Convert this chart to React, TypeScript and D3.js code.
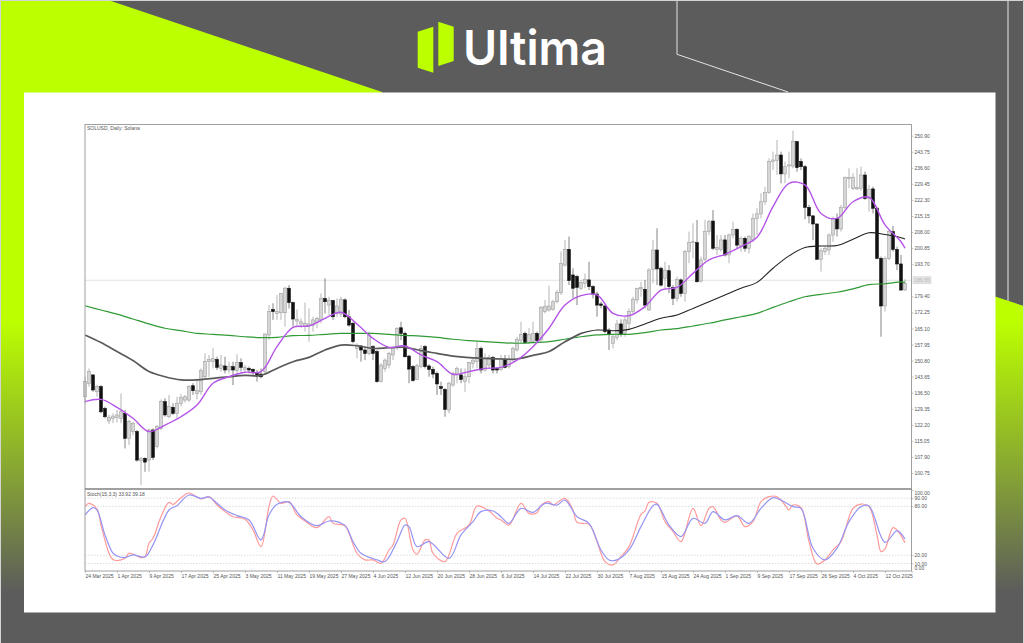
import { useEffect, useRef } from 'react';
import * as d3 from 'd3';

const width = 1024;
const height = 643;

// daily SOLUSD candles, one entry per bar
const opens = [134.7,140.7,144.4,136.9,139.2,129.5,123.9,125.1,125.5,125.1,127.3,116.2,119.2,119.2,106.2,107.3,106.5,119.9,112.5,120.6,132.5,125.8,130.0,127.3,131.8,133.2,133.2,139.6,136.2,136.9,143.6,150.3,150.3,151.3,147.3,148.4,146.6,148.1,146.3,149.9,146.9,147.3,146.9,145.1,144.8,145.9,162.2,173.6,171.8,172.1,172.1,183.0,176.6,168.4,167.1,166.2,166.3,166.6,167.7,168.9,178.4,175.5,177.5,171.8,171.5,177.8,170.3,167.4,156.2,157.3,155.5,154.0,157.0,154.8,141.4,147.3,148.8,153.3,157.0,165.4,162.9,152.8,148.1,142.4,148.1,157.0,148.4,146.9,145.1,139.2,138.0,128.8,139.9,144.4,144.4,141.4,143.6,149.6,150.3,156.2,146.6,148.8,152.2,147.2,146.9,151.3,148.1,151.0,155.5,159.7,162.9,158.8,159.2,162.9,160.0,172.6,173.3,173.6,177.0,181.0,193.3,200.3,188.9,188.2,183.0,185.2,186.7,183.7,180.4,176.0,175.1,164.4,158.5,161.1,167.1,162.9,167.4,172.6,177.8,182.7,182.5,173.3,191.4,200.0,191.9,187.4,190.8,183.3,178.5,186.7,180.7,199.3,203.3,203.3,186.2,195.9,208.2,212.9,200.3,200.3,204.5,197.8,206.7,209.2,201.8,205.2,200.8,204.5,214.1,216.1,221.5,225.6,239.4,239.8,242.3,233.9,237.4,237.4,248.3,239.4,237.1,219.0,215.2,211.6,195.9,199.3,200.0,206.7,214.1,209.4,219.0,231.9,227.5,227.2,227.5,233.4,223.0,227.2,218.6,196.3,175.1,196.3,208.2,200.3,193.8,182.2];
const highs = [143.6,147.3,144.8,139.9,139.9,130.3,126.6,127.3,128.8,136.2,128.8,124.3,123.6,119.9,108.0,107.7,120.6,120.6,122.1,133.5,134.0,135.5,131.8,134.7,135.9,135.5,139.9,140.7,142.2,147.3,154.0,153.3,156.5,152.5,153.3,152.5,150.3,150.3,153.6,151.8,148.8,148.1,147.3,146.6,147.3,162.9,175.5,176.3,180.0,180.7,183.7,184.4,177.0,173.6,169.6,176.6,174.0,170.3,170.3,180.7,187.4,179.2,177.8,178.5,179.2,178.5,173.3,168.1,158.5,157.7,157.0,163.7,157.7,155.5,149.6,151.8,154.7,157.0,165.6,168.1,163.7,153.3,148.8,149.3,157.7,157.7,149.1,148.1,145.9,141.4,138.4,141.4,145.9,148.1,147.3,147.3,150.3,152.2,159.2,157.0,154.0,153.3,152.8,147.8,153.3,153.3,153.3,157.0,161.4,168.1,163.7,165.2,168.1,163.7,175.1,177.8,184.1,177.8,182.2,199.3,204.5,206.0,191.9,188.9,186.7,189.6,194.8,184.4,181.5,177.0,175.5,165.2,162.9,168.9,169.2,170.3,174.0,179.2,183.0,185.9,186.7,191.9,204.5,209.7,192.6,194.8,193.3,184.4,188.2,187.4,200.0,208.2,211.9,213.4,197.1,213.4,213.4,217.8,206.7,206.7,206.7,207.4,212.6,209.7,206.0,206.0,206.7,216.3,218.6,225.3,228.2,240.8,243.8,249.0,243.8,239.4,243.8,253.2,248.3,240.8,237.9,220.1,215.6,211.9,200.8,201.5,207.4,214.9,216.3,220.1,232.7,236.4,234.2,236.4,237.1,234.9,229.0,228.2,219.3,197.1,197.1,208.9,210.7,201.5,197.8,187.0];
const lows = [131.8,139.2,136.9,134.7,127.3,125.1,122.6,122.9,123.2,122.9,111.7,113.2,117.7,105.8,95.4,101.3,101.3,106.5,111.7,119.9,125.8,125.1,126.6,125.1,130.3,132.1,132.5,135.5,133.5,135.5,142.9,143.6,147.3,146.6,145.9,145.1,145.1,139.9,143.6,145.9,145.9,145.1,144.4,141.4,142.9,145.1,159.9,168.9,168.9,168.9,165.9,174.0,165.9,165.9,165.2,163.7,159.2,163.7,165.2,167.4,171.8,171.1,168.9,170.3,170.3,169.6,165.9,158.5,151.8,150.3,151.0,153.3,151.0,141.0,141.0,145.9,147.3,151.0,155.5,159.9,152.2,140.7,141.4,142.2,147.3,147.3,143.6,142.9,135.5,135.5,125.8,127.3,139.2,140.7,140.7,136.9,140.7,147.3,147.3,145.1,145.9,147.3,145.1,145.1,146.3,147.3,147.3,150.3,154.8,158.5,158.2,158.2,158.5,158.5,159.2,171.8,172.6,173.0,176.3,180.0,192.6,184.4,178.5,175.5,182.2,183.0,182.2,178.5,170.3,174.0,162.9,155.5,156.2,159.9,161.4,161.4,164.4,171.8,176.3,179.2,174.0,173.0,185.2,184.4,183.7,182.2,180.7,175.5,177.0,179.2,177.0,194.1,196.3,185.5,185.5,194.8,206.7,200.0,197.8,199.3,197.1,194.1,205.2,200.8,199.3,199.3,198.5,203.7,206.7,214.1,220.1,225.0,235.6,233.4,229.7,229.7,231.9,236.4,234.9,235.6,213.7,211.9,204.5,195.6,190.4,197.8,197.8,203.7,206.0,208.2,217.8,227.5,226.7,226.7,226.4,222.3,217.1,216.3,195.9,161.4,172.6,195.6,199.3,191.1,181.9,181.9];
const closes = [141.4,145.9,137.7,139.2,128.0,125.8,125.4,126.1,126.6,128.0,116.2,123.6,122.9,106.5,107.1,105.6,119.9,107.7,121.4,132.5,126.6,130.3,127.3,131.8,134.4,134.7,139.2,137.4,137.4,146.3,150.3,151.3,151.8,147.8,148.8,146.6,148.1,146.6,149.9,147.8,147.8,146.6,145.9,143.9,143.6,162.6,172.6,172.6,172.7,180.7,183.0,176.6,169.3,169.2,168.1,167.4,167.1,168.9,169.6,178.5,177.0,177.5,170.3,175.1,178.1,170.3,166.6,159.2,157.7,155.5,154.0,162.2,154.0,141.4,148.8,151.0,154.0,156.2,165.2,162.9,152.5,147.0,141.9,148.5,156.2,148.1,146.9,144.8,140.4,138.4,129.1,140.7,145.1,147.3,142.4,143.6,149.9,151.0,156.2,146.6,151.8,152.2,146.6,146.6,151.8,147.8,151.3,156.2,160.2,162.5,158.8,162.5,162.9,159.7,174.5,174.8,175.1,177.0,181.2,194.1,200.3,186.4,183.0,183.4,185.5,187.0,183.7,180.4,175.5,175.4,163.7,162.6,161.4,167.1,162.6,168.9,172.6,178.1,183.0,183.3,175.5,191.1,200.0,191.6,184.4,191.1,183.7,178.5,187.0,180.7,199.3,203.4,203.7,185.9,195.6,208.2,212.6,200.8,201.1,204.5,197.8,206.7,209.2,202.2,205.2,200.8,206.0,214.1,216.1,221.5,225.6,239.4,240.1,242.3,233.9,237.1,237.9,248.3,236.7,237.1,219.0,215.2,211.6,195.9,199.7,200.8,206.7,214.1,209.4,219.0,232.4,232.4,232.4,227.8,233.4,223.0,227.0,218.6,196.3,175.1,196.3,208.2,200.3,193.8,182.2,185.2];

// moving averages, read every 4th bar
const maBars = [...d3.range(0, 205, 4), 205];
const maFast = [132.5,133.5,130.0,125.1,119.2,122.1,125.8,131.0,140.7,143.6,145.6,145.9,157.0,165.6,166.2,169.6,172.3,167.1,160.7,156.7,157.3,153.3,150.3,144.7,145.9,147.3,147.8,151.0,157.0,165.2,175.5,179.7,180.0,171.8,170.8,174.8,182.2,183.4,189.6,195.6,198.1,201.5,205.7,219.3,229.7,229.0,216.3,214.1,221.5,223.5,211.2,203.7,200.8];
const maMid = [162.2,158.8,154.8,150.8,145.9,143.6,142.2,142.2,142.9,143.6,144.2,144.2,147.3,150.3,152.2,155.5,157.7,157.4,156.2,156.5,156.7,155.2,154.0,152.8,152.1,151.8,151.5,151.5,153.1,154.8,159.2,162.9,164.4,164.1,164.7,167.1,169.6,171.1,174.0,177.0,180.0,183.0,185.6,191.9,197.4,201.1,201.8,202.0,204.8,207.7,206.9,205.5,204.9];
const maSlow = [175.2,173.3,171.5,169.3,167.1,165.2,164.1,162.9,162.5,162.0,161.4,161.0,161.1,161.9,162.0,162.5,162.9,162.9,162.9,162.5,162.0,161.7,161.1,160.3,159.7,159.2,158.8,158.5,158.8,159.2,160.3,161.4,162.2,162.5,162.5,163.2,164.4,165.0,166.2,167.4,168.9,170.3,171.8,174.5,177.0,179.2,180.3,181.2,182.7,184.6,185.0,185.8,185.6];

// stochastic turning points
const stochSignalBars = [0,1,3,4,6,7,8,10,11,13,14,15,16,17,19,21,22,24,26,29,31,33,35,37,40,42,44,46,47,49,51,53,55,58,61,62,65,66,68,70,72,74,76,77,79,80,82,83,85,86,87,90,93,96,98,101,103,104,106,109,111,113,114,116,117,120,122,123,126,128,130,132,134,136,139,140,141,143,145,147,149,152,154,156,157,159,160,163,165,167,169,171,173,175,176,177,179,181,183,185,187,189,192,194,196,198,199,200,202,203,205];
const stochSignal = [79.6,83.7,76.7,57.1,22.5,14.7,13.5,16.3,22.5,19.2,17.2,18.4,34.7,40.8,67.3,84.9,82.4,90.6,96.3,89.0,91.8,81.6,73.5,67.3,64.1,51.0,30.6,79.6,92.6,83.7,85.7,69.4,62.0,53.9,67.3,59.2,56.3,46.9,22.5,14.3,14.3,10.2,26.5,32.7,63.3,65.3,26.5,21.2,38.8,38.8,22.5,12.3,46.9,57.1,80.4,74.3,65.3,63.3,57.1,83.7,71.4,72.2,80.8,85.7,81.6,89.8,75.5,60.4,57.9,36.7,12.3,8.2,18.4,30.6,70.2,74.3,84.9,83.7,61.2,49.0,36.7,77.5,56.3,77.5,79.6,63.3,60.4,68.2,55.1,61.2,85.7,91.8,91.8,81.6,75.5,81.6,78.4,36.7,9.4,14.3,26.5,36.7,77.5,82.8,79.6,44.9,24.5,27.8,53.9,51.0,35.5];
const stochMainBars = [0,2,3,5,7,8,10,12,15,17,21,23,26,29,31,33,35,38,41,44,46,48,51,54,58,61,65,67,69,73,75,78,80,81,83,86,91,94,97,99,102,104,106,109,112,115,118,120,123,126,129,131,133,136,139,142,143,146,149,152,155,157,160,163,166,169,172,174,177,179,182,185,188,191,194,196,200,203,205];
const stochMain = [69.4,78.3,75.5,44.9,22.5,19.2,17.2,20.4,18.0,32.7,75.5,80.8,93.9,89.8,91.4,83.7,75.5,68.6,63.3,38.8,69.4,82.4,84.9,67.3,56.3,62.0,56.3,36.7,22.5,14.3,12.3,36.7,57.1,55.1,30.6,36.7,16.3,44.9,61.2,73.5,74.3,67.3,59.2,77.5,72.6,83.7,81.6,87.7,67.3,59.2,26.5,14.3,14.3,26.5,55.1,80.8,82.4,57.1,42.9,65.3,59.2,73.5,63.3,68.6,59.2,77.5,90.6,87.7,79.6,77.5,28.6,14.3,28.6,61.2,79.6,80.4,35.9,49.8,40.0];

const priceTicks = [250.90,243.75,236.60,229.45,222.30,215.15,208.00,200.85,193.70,179.40,172.25,165.10,157.95,150.80,143.65,136.50,129.35,122.20,115.05,107.90,100.75];
const stochLevels = [90, 80, 20, 10];
const stochTicks = [100, 90, 80, 20, 10, 0];
const dateLabels = ['24 Mar 2025','1 Apr 2025','9 Apr 2025','17 Apr 2025','25 Apr 2025','3 May 2025','11 May 2025','19 May 2025','27 May 2025','4 Jun 2025','12 Jun 2025','20 Jun 2025','28 Jun 2025','6 Jul 2025','14 Jul 2025','22 Jul 2025','30 Jul 2025','7 Aug 2025','15 Aug 2025','24 Aug 2025','1 Sep 2025','9 Sep 2025','17 Sep 2025','26 Sep 2025','4 Oct 2025','12 Oct 2025'];
const lastPrice = 186.55;

const App = () => {
  const svgRef = useRef<SVGSVGElement>(null);

  useEffect(() => {
    if (!svgRef.current) return;
    const svg = d3.select(svgRef.current);
    svg.selectAll('*').remove();

    const gray = '#5c5c5c';
    const lime = '#bbff00';
    const tickFont = 'Liberation Sans, Arial, sans-serif';

    // page background, the lime shape runs on under the white card
    const defs = svg.append('defs');
    const fade = defs.append('linearGradient')
      .attr('id', 'fade')
      .attr('gradientUnits', 'userSpaceOnUse')
      .attr('x1', 0).attr('y1', 322)
      .attr('x2', 0).attr('y2', 592);
    fade.append('stop').attr('offset', 0).attr('stop-color', lime);
    fade.append('stop').attr('offset', 1).attr('stop-color', gray);

    svg.append('rect').attr('width', width).attr('height', height).attr('fill', gray);
    svg.append('path').attr('d', 'M0,0H108L382,92V120H985V293.3L1024,306V643H0Z').attr('fill', 'url(#fade)');
    svg.append('path').attr('d', 'M677,0V54.3L788,92M1008,0V301')
      .attr('fill', 'none').attr('stroke', '#f2f2f2').attr('stroke-width', 0.9);
    svg.append('rect').attr('x', 24).attr('y', 92.5).attr('width', 971.5).attr('height', 520).attr('fill', '#fff');
    svg.append('path').attr('d', 'M0.5,643V0.5H1023.5V643')
      .attr('fill', 'none').attr('stroke', '#d4d4d4').attr('stroke-width', 1);

    // logo
    svg.append('path').attr('d', 'M417.7,31.7L433.3,26.7V72.7L417.7,67.7Z').attr('fill', lime);
    svg.append('path').attr('d', 'M438.3,21.7L453.7,26.7V61L438.3,66Z').attr('fill', lime);
    svg.append('text').attr('x', 463).attr('y', 65)
      .attr('font-family', 'Inter, sans-serif').attr('font-size', 48).attr('font-weight', 600)
      .attr('fill', '#fff').attr('textLength', 144).attr('lengthAdjust', 'spacingAndGlyphs')
      .text('Ultima');

    // chart geometry
    const left = 85;
    const right = 911.5;
    const top = 124.5;
    const mainBottom = 489;
    const subBottom = 571;

    const x = d3.scaleLinear().domain([0, 205]).range([85, 905]);
    const y = d3.scaleLinear().domain([250.9, 100.75]).range([135.7, 473]);
    const yStoch = d3.scaleLinear().domain([100, 0]).range([490, 571.6]);

    const bars = d3.range(opens.length);
    const chart = svg.append('g');

    // last price line
    chart.append('line')
      .attr('x1', left).attr('x2', right)
      .attr('y1', y(lastPrice)).attr('y2', y(lastPrice))
      .attr('stroke', '#e2e2e2').attr('stroke-width', 1.2);

    // candles
    const candle = chart.selectAll('g.candle').data(bars).join('g').attr('class', 'candle');
    candle.append('line')
      .attr('x1', i => x(i)).attr('x2', i => x(i))
      .attr('y1', i => y(highs[i])).attr('y2', i => y(lows[i]))
      .attr('stroke', i => (closes[i] >= opens[i] ? '#a2a2a2' : '#666'))
      .attr('stroke-width', 0.8);
    candle.append('rect')
      .attr('x', i => x(i) - 1.4)
      .attr('width', 2.8)
      .attr('y', i => y(Math.max(opens[i], closes[i])))
      .attr('height', i => Math.max(0.8, Math.abs(y(opens[i]) - y(closes[i]))))
      .attr('fill', i => (closes[i] >= opens[i] ? '#d6d6d6' : '#111'))
      .attr('stroke', i => (closes[i] >= opens[i] ? '#a0a0a0' : '#111'))
      .attr('stroke-width', 0.6);

    // moving averages
    const maLine = d3.line<number>()
      .x(k => x(maBars[k]))
      .curve(d3.curveCatmullRom.alpha(0.5));
    const maIdx = d3.range(maBars.length);
    chart.append('path').attr('d', maLine.y(k => y(maSlow[k]))(maIdx))
      .attr('fill', 'none').attr('stroke', '#2f9a35').attr('stroke-width', 1.2);
    // the 50 bar line is drawn heavier and greyer over the older bars
    chart.append('path').attr('d', maLine.y(k => y(maMid[k]))(maIdx.slice(0, 32)))
      .attr('fill', 'none').attr('stroke', '#5a5a5a').attr('stroke-width', 1.7);
    chart.append('path').attr('d', maLine.y(k => y(maMid[k]))(maIdx.slice(31)))
      .attr('fill', 'none').attr('stroke', '#222').attr('stroke-width', 1.1);
    chart.append('path').attr('d', maLine.y(k => y(maFast[k]))(maIdx))
      .attr('fill', 'none').attr('stroke', '#b455e8').attr('stroke-width', 1.4);

    // stochastic pane
    stochLevels.forEach(level => {
      chart.append('line')
        .attr('x1', left).attr('x2', right)
        .attr('y1', yStoch(level)).attr('y2', yStoch(level))
        .attr('stroke', '#c4c4c4').attr('stroke-width', 0.6).attr('stroke-dasharray', '1.5 1.5');
    });
    const stochLine = (barIdx: number[]) => d3.line<number>()
      .x((_, k) => x(barIdx[k]))
      .y(d => yStoch(d))
      .curve(d3.curveCatmullRom.alpha(0.5));
    chart.append('path').attr('d', stochLine(stochSignalBars)(stochSignal))
      .attr('fill', 'none').attr('stroke', '#ff9a9a').attr('stroke-width', 1.2);
    chart.append('path').attr('d', stochLine(stochMainBars)(stochMain))
      .attr('fill', 'none').attr('stroke', '#9494f5').attr('stroke-width', 1.2);

    // frame
    const frame = '#a0a0a0';
    chart.append('rect')
      .attr('x', left).attr('y', top)
      .attr('width', right - left).attr('height', subBottom - top)
      .attr('fill', 'none').attr('stroke', frame).attr('stroke-width', 1);
    chart.append('line')
      .attr('x1', left).attr('x2', right).attr('y1', mainBottom).attr('y2', mainBottom)
      .attr('stroke', '#808080').attr('stroke-width', 1.6);

    // price axis
    const yAxis = d3.axisRight(y)
      .tickValues(priceTicks)
      .tickSize(2)
      .tickFormat(d => d3.format('.2f')(d as number));
    const yG = chart.append('g').attr('transform', `translate(${right},0)`).call(yAxis);
    yG.select('.domain').remove();
    yG.selectAll('line').attr('stroke', '#888').attr('stroke-width', 0.5);
    yG.selectAll('text')
      .attr('x', 3)
      .attr('font-family', tickFont).attr('font-size', 5).attr('fill', '#555');

    // last price tag
    chart.append('rect')
      .attr('x', right + 1.5).attr('y', y(lastPrice) - 3.5)
      .attr('width', 18).attr('height', 7)
      .attr('fill', '#e3e3e3').attr('stroke', '#cfcfcf').attr('stroke-width', 0.5);
    chart.append('text')
      .attr('x', right + 3).attr('y', y(lastPrice) + 1.8)
      .attr('font-family', tickFont).attr('font-size', 5).attr('fill', '#bbb')
      .text(d3.format('.2f')(lastPrice));

    // stochastic axis, the outer labels sit inside the pane
    const stochNudge: Record<number, number> = { 100: 3, 0: -3.5 };
    const stochAxis = d3.axisRight(yStoch)
      .tickValues(stochTicks)
      .tickSize(2)
      .tickFormat(d => d3.format('.2f')(d as number));
    const sG = chart.append('g').attr('transform', `translate(${right},0)`).call(stochAxis);
    sG.select('.domain').remove();
    sG.selectAll('line').attr('stroke', '#888').attr('stroke-width', 0.5);
    sG.selectAll<SVGTextElement, number>('text')
      .attr('x', 3)
      .attr('y', d => stochNudge[d] ?? 0)
      .attr('font-family', tickFont).attr('font-size', 5).attr('fill', '#555');

    // date axis
    const xAxis = d3.axisBottom(x)
      .tickValues(dateLabels.map((_, k) => k * 8))
      .tickSize(2)
      .tickFormat((_, k) => dateLabels[k]);
    const xG = chart.append('g').attr('transform', `translate(0,${subBottom})`).call(xAxis);
    xG.select('.domain').remove();
    xG.selectAll('line').attr('stroke', '#888').attr('stroke-width', 0.5);
    xG.selectAll('text')
      .attr('y', 3.5)
      .attr('text-anchor', 'start')
      .attr('font-family', tickFont).attr('font-size', 5).attr('fill', '#555');

    // pane captions
    chart.append('text').attr('x', 87).attr('y', 130)
      .attr('font-family', tickFont).attr('font-size', 5).attr('fill', '#555')
      .text('SOLUSD, Daily:  Solana');
    chart.append('text').attr('x', 87).attr('y', 496)
      .attr('font-family', tickFont).attr('font-size', 5).attr('fill', '#555')
      .text('Stoch(15,3,3) 33.92 39.18');
  }, []);

  return (
    <svg
      ref={svgRef}
      width={width}
      height={height}
      style={{ position: 'absolute', left: 0, top: 0, display: 'block' }}
    />
  );
};

export default App;
